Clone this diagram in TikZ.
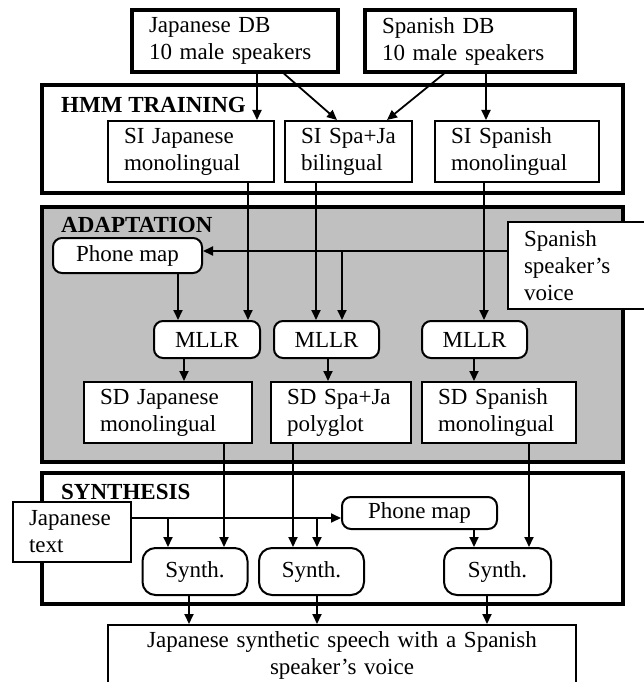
\documentclass[tikz,border=0pt]{standalone}
\usepackage{fontspec}
\setmainfont{Liberation Serif}
\usetikzlibrary{arrows.meta}
\definecolor{adaptgray}{RGB}{192,192,192}
\begin{document}
\begin{tikzpicture}[x=1pt,y=-1pt,
  every node/.style={font=\fontsize{23}{27}\selectfont},
  sectbox/.style={draw, line width=3.3pt, inner sep=0pt},
  dbbox/.style={draw, fill=white, line width=3.3pt, inner xsep=17pt, inner ysep=0pt, align=left},
  lbox/.style={draw, fill=white, line width=2pt, inner xsep=16pt, inner ysep=0pt, align=left},
  rbox/.style={draw, fill=white, line width=2pt, rounded corners=9pt, inner sep=0pt, align=center},
  head/.style={font=\fontsize{23}{27}\selectfont\bfseries, anchor=west, inner sep=0pt},
  arr/.style={line width=1.8pt, -{Triangle[length=10pt,width=9pt]}}]
\useasboundingbox (0,0) rectangle (643,682);
\fill[white] (0,0) rectangle (643,682);

% x and y reference coordinates
\foreach \v in {168,178,184,189,224,248,257,284,293,316,317,328,337,342,387,444,474,484,486,487,529}
  \coordinate (X\v) at (\v,0);
\foreach \v in {251,518}
  \coordinate (Y\v) at (0,\v);

% section boxes
\node[sectbox, minimum width=581pt, minimum height=108pt] (hmm) at (332.5,139) {};
\node[sectbox, fill=adaptgray, minimum width=581pt, minimum height=255pt] (adapt) at (332.5,334.5) {};
\node[sectbox, minimum width=581pt, minimum height=131pt] (synthsec) at (332.5,538.5) {};
\node[head] (hmmlbl) at (61,105) {HMM TRAINING};
\node[head] (adlbl) at (61,225) {ADAPTATION};
\node[head] (synlbl) at (61,492) {SYNTHESIS};

% databases
\node[dbbox, text width=172pt, minimum height=62pt] (jdb) at (235,41) {Japanese DB\\10 male speakers};
\node[dbbox, text width=176pt, minimum height=62pt] (sdb) at (470,41) {Spanish DB\\10 male speakers};

% SI models
\node[lbox, text width=134pt, minimum height=61pt] (sij) at (191,151.5) {SI Japanese\\monolingual};
\node[lbox, text width=95pt, minimum height=61pt] (sib) at (348.5,151.5) {SI Spa+Ja\\bilingual};
\node[lbox, text width=132pt, minimum height=61pt] (sis) at (517,151.5) {SI Spanish\\monolingual};

% adaptation
\node[rbox, minimum width=149pt, minimum height=35pt] (pm1) at (127.5,255.5) {Phone map};
\node[lbox, text width=130pt, minimum height=87pt] (sv) at (589,265.5) {Spanish\\speaker's\\voice};
\node[rbox, minimum width=106pt, minimum height=37pt] (ml1) at (207,339.5) {MLLR};
\node[rbox, minimum width=105pt, minimum height=37pt] (ml2) at (326.5,339.5) {MLLR};
\node[rbox, minimum width=105pt, minimum height=37pt] (ml3) at (474.5,339.5) {MLLR};
\node[lbox, text width=136pt, minimum height=61pt] (sdj) at (168,412.5) {SD Japanese\\monolingual};
\node[lbox, text width=108pt, minimum height=61pt] (sdp) at (341,412.5) {SD Spa+Ja\\polyglot};
\node[lbox, text width=122pt, minimum height=61pt] (sds) at (499,412.5) {SD Spanish\\monolingual};

% synthesis
\node[lbox, text width=86pt, minimum height=60pt] (jt) at (72,532) {Japanese\\text};
\node[rbox, minimum width=155pt, minimum height=32pt] (pm2) at (419.5,513) {Phone map};
\node[rbox, rounded corners=13pt, minimum width=105pt, minimum height=47pt] (sy1) at (195,571.5) {Synth.};
\node[rbox, rounded corners=13pt, minimum width=105pt, minimum height=47pt] (sy2) at (311.5,571.5) {Synth.};
\node[rbox, rounded corners=13pt, minimum width=107pt, minimum height=47pt] (sy3) at (497.5,571.5) {Synth.};
\node[lbox, align=center, inner xsep=0pt, text width=468pt, minimum height=61pt] (fin) at (342,655.5)
  {Japanese synthetic speech with a Spanish\\speaker's voice};

% connectors: training
\draw[arr] (jdb.south -| X257) -- (sij.north -| X257);
\draw[arr] (jdb.south -| X284) -- (sib.north -| X337);
\draw[arr] (sdb.south -| X444) -- (sib.north -| X387);
\draw[arr] (sdb.south -| X486) -- (sis.north -| X486);

% connectors: adaptation
\draw[arr] (sij.south -| X248) -- (ml1.north -| X248);
\draw[arr] (sib.south -| X316) -- (ml2.north -| X316);
\draw[arr] (sis.south -| X484) -- (ml3.north -| X484);
\draw[arr] (sv.west |- Y251) -- (pm1.east |- Y251);
\draw[arr] (X342 |- Y251) -- (ml2.north -| X342);
\draw[arr] (pm1.south -| X178) -- (ml1.north -| X178);
\draw[arr] (ml1.south -| X184) -- (sdj.north -| X184);
\draw[arr] (ml2.south -| X328) -- (sdp.north -| X328);
\draw[arr] (ml3.south -| X474) -- (sds.north -| X474);

% connectors: synthesis
\draw[arr] (sdj.south -| X224) -- (sy1.north -| X224);
\draw[arr] (sdp.south -| X293) -- (sy2.north -| X293);
\draw[arr] (sds.south -| X529) -- (sy3.north -| X529);
\draw[arr] (jt.east |- Y518) -- (pm2.west |- Y518);
\draw[arr] (X168 |- Y518) -- (sy1.north -| X168);
\draw[arr] (X317 |- Y518) -- (sy2.north -| X317);
\draw[arr] (pm2.south -| X474) -- (sy3.north -| X474);
\draw[arr] (sy1.south -| X189) -- (fin.north -| X189);
\draw[arr] (sy2.south -| X317) -- (fin.north -| X317);
\draw[arr] (sy3.south -| X487) -- (fin.north -| X487);
\end{tikzpicture}
\end{document}
